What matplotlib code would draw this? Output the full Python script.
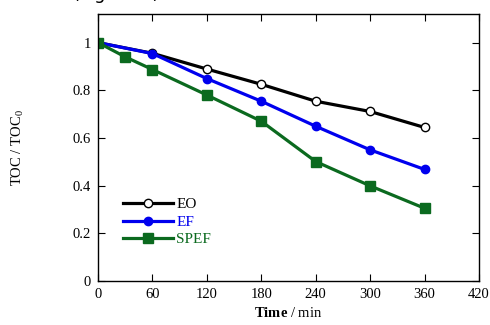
import matplotlib
matplotlib.use("Agg")
import matplotlib.pyplot as plt

time_eo = [0, 60, 120, 180, 240, 300, 360]
toc_eo = [1.0, 0.955, 0.889, 0.825, 0.754, 0.711, 0.644]
time_ef = [0, 60, 120, 180, 240, 300, 360]
toc_ef = [1.0, 0.954, 0.849, 0.754, 0.649, 0.55, 0.468]
time_spef = [0, 30, 60, 120, 180, 240, 300, 360]
toc_spef = [1.0, 0.94, 0.887, 0.78, 0.67, 0.501, 0.399, 0.305]
x_ticks = [0, 60, 120, 180, 240, 300, 360, 420]
y_ticks = [0, 0.2, 0.4, 0.6, 0.8, 1.0]
y_tick_labels = ["0", "0.2", "0.4", "0.6", "0.8", "1"]

plt.rcParams['font.family'] = ['Liberation Serif', 'DejaVu Serif']
plt.rcParams['mathtext.fontset'] = 'custom'
plt.rcParams['mathtext.rm'] = 'Liberation Serif'
plt.rcParams['mathtext.bf'] = 'Liberation Serif:bold'

fig = plt.figure(figsize=(4.9, 3.25), dpi=100)
ax = fig.add_axes([0.2, 0.1354, 0.7776, 0.8216])

green = '#0b6a1f'
blue = '#0000ee'
ax.plot(time_eo, toc_eo, color='black', lw=2.3, marker='o', ms=6,
        mfc='white', mec='black', mew=1.0, label='EO')
ax.plot(time_ef, toc_ef, color=blue, lw=2.3, marker='o', ms=6,
        mfc=blue, mec=blue, label='EF')
ax.plot(time_spef, toc_spef, color=green, lw=2.3, marker='s', ms=6.5,
        mfc=green, mec=green, label='SPEF')

ax.set_xlim(0, 420)
ax.set_ylim(0, 1.12)
ax.set_xticks(x_ticks)
ax.set_yticks(y_ticks)
ax.set_yticklabels(y_tick_labels)
ax.tick_params(direction='in', top=True, right=True, labelsize=10.5, length=5, width=0.8, pad=5)
for s in ax.spines.values():
    s.set_linewidth(1.0)

ax.set_xlabel(r'$\mathbf{Time}$ / min', fontsize=10.5, labelpad=4)
ax.set_ylabel(r'TOC / TOC$_0$', fontsize=10.5, labelpad=34)

leg = ax.legend(loc='upper left', bbox_to_anchor=(0.037, 0.352), frameon=False,
                fontsize=11, handlelength=3.3, handletextpad=0.2,
                labelspacing=0.25, borderpad=0.2)
for txt, line in zip(leg.get_texts(), leg.get_lines()):
    txt.set_color(line.get_color())

fig.text(0.148, 1.0 + 0.004, '(Figure 5)', fontsize=13, family='DejaVu Sans',
         ha='left', va='baseline', color='black')

fig.savefig('out.png', dpi=100)
